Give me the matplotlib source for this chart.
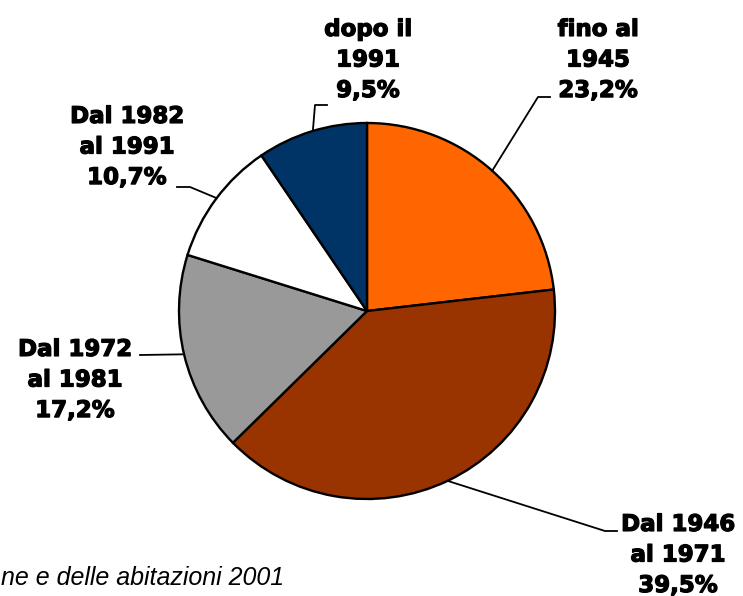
import numpy as np
import matplotlib.pyplot as plt
import matplotlib.patheffects as pe

# data
labels = ['fino al\n1945', 'Dal 1946\nal 1971', 'Dal 1972\nal 1981', 'Dal 1982\nal 1991', 'dopo il\n1991']
values = [23.2, 39.5, 17.2, 10.7, 9.5]
colors = ['#FF6600', '#993300', '#999999', '#FFFFFF', '#003366']
source = 'ne e delle abitazioni 2001'

# layout in pixels (pie centre / radius, label centres, leader elbows)
W, H = 743, 596
CX, CY, R = 367, 311, 188
label_pos = [(598, 60), (678, 555), (75, 380), (127, 147), (368, 60)]
elbows = [[(550, 97), (538, 97)],
          [(617, 531), (605, 531)],
          [(140, 355)],
          [(177, 187), (190, 187)],
          [(327, 105), (315, 105)]]


def px(x, y):
    return (x - CX) / R, (CY - y) / R


fig = plt.figure(figsize=(W / 100, H / 100), dpi=100)
ax = fig.add_axes([0, 0, 1, 1])

ax.pie(values, colors=colors, startangle=90, counterclock=False, radius=1,
       wedgeprops=dict(edgecolor='black', linewidth=1.7))
ax.set_aspect('auto')
ax.set_xlim(px(0, 0)[0], px(W, 0)[0])
ax.set_ylim(px(0, H)[1], px(0, 0)[1])
ax.axis('off')

thick = [pe.withStroke(linewidth=0.9, foreground='black')]
start = 90.0
for lab, v, pos, elb in zip(labels, values, label_pos, elbows):
    mid = np.deg2rad(start - v * 3.6 / 2)
    start -= v * 3.6
    pts = [px(*p) for p in elb] + [(np.cos(mid), np.sin(mid))]
    ax.plot([p[0] for p in pts], [p[1] for p in pts], color='black', lw=1.3)
    txt = lab + '\n' + ('%.1f%%' % v).replace('.', ',')
    ax.text(*px(*pos), txt, ha='center', va='center', fontsize=16.5,
            fontweight='bold', family='DejaVu Sans', linespacing=1.42,
            path_effects=thick)

ax.text(*px(1, 578), source, ha='left', va='center', fontsize=18,
        style='italic', family='Liberation Sans')

fig.savefig('out.png', dpi=100)
